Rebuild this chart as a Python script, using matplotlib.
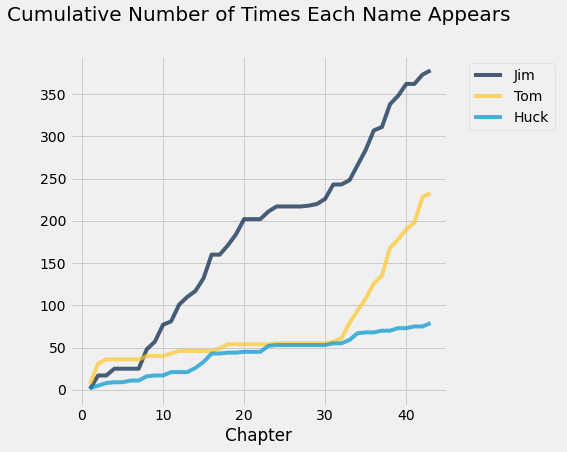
import numpy as np
import matplotlib
matplotlib.use('Agg')
import matplotlib.pyplot as plt

plt.style.use('fivethirtyeight')

chapters = np.arange(1, 44)
jim = [1, 17, 17, 25, 25, 25, 25, 48, 57, 77, 81, 101, 110, 117, 132, 160, 160, 171, 184, 202,
       202, 202, 211, 217, 217, 217, 217, 218, 220, 226, 243, 243, 248, 266, 284, 307, 311, 338,
       348, 362, 362, 373, 378]
tom = [7, 31, 36, 36, 36, 36, 36, 40, 40, 40, 43, 46, 46, 46, 46, 46, 49, 54, 54, 54,
       54, 54, 54, 55, 55, 55, 55, 55, 55, 55, 57, 61, 79, 94, 108, 126, 135, 168,
       178, 190, 198, 228, 233]
huck = [2, 5, 8, 9, 9, 11, 11, 16, 17, 17, 21, 21, 21, 26, 33, 43, 43, 44, 44, 45,
        45, 45, 52, 53, 53, 53, 53, 53, 53, 53, 55, 55, 59, 67, 68, 68, 70, 70,
        73, 73, 75, 75, 79]

names = ['Jim', 'Tom', 'Huck']
colors = [(0.0, 30/256, 66/256), (1.0, 200/256, 44/256), (0.0, 150/256, 207/256)]

fig = plt.figure(figsize=(567/72, 452/72), dpi=72)
fig.patch.set_facecolor('#f0f0f0')
ax = fig.add_axes([0.123, 0.102, 0.665, 0.774])
for ys, name, c in zip([jim, tom, huck], names, colors):
    ax.plot(chapters, ys, color=c, alpha=0.7, lw=4, label=name)
ax.set_xlabel('Chapter')
ax.set_xlim(-1.5, 45)
ax.set_ylim(-19, 395)
ax.set_xticks([0, 10, 20, 30, 40])
ax.set_yticks(range(0, 351, 50))
fig.text(0.012, 0.965, 'Cumulative Number of Times Each Name Appears', fontsize=20, va='center')
ax.legend(loc='upper left', bbox_to_anchor=(1.04, 1.0), fontsize=14)
fig.savefig('out.png', dpi=72)
